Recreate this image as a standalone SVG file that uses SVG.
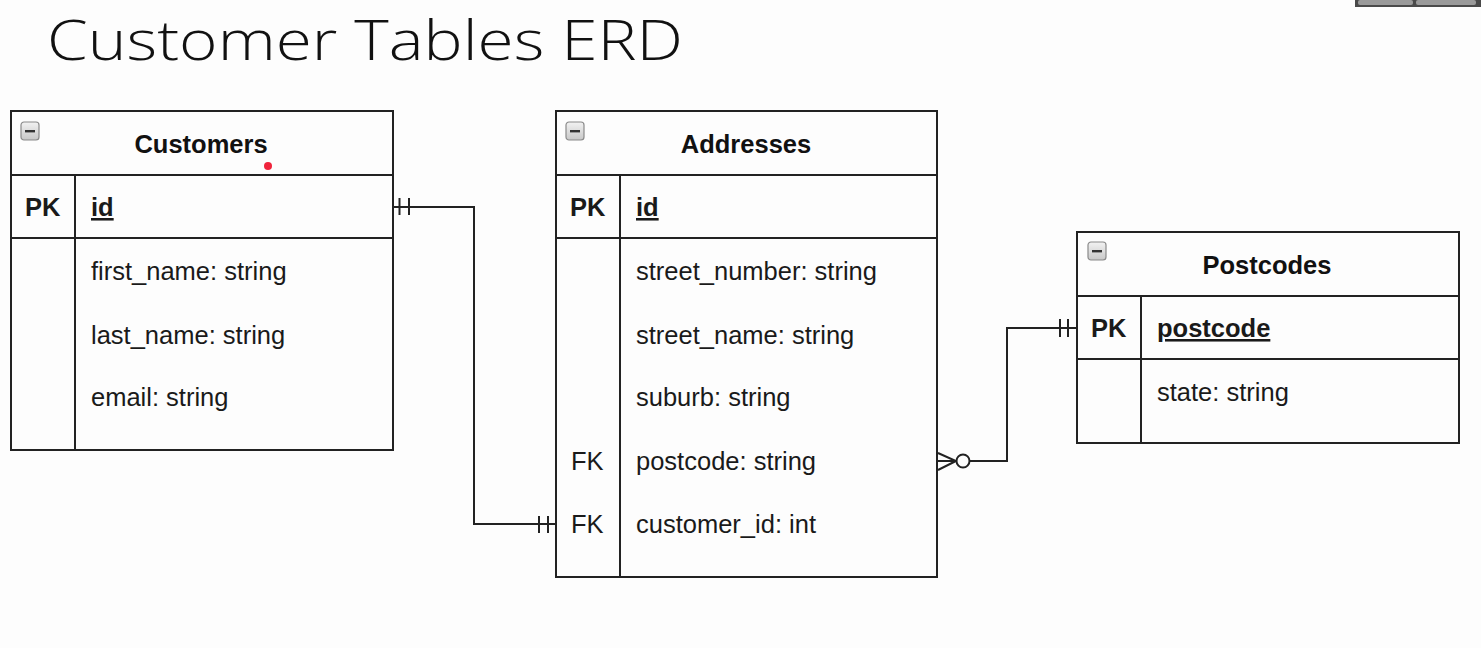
<svg xmlns="http://www.w3.org/2000/svg" width="1481" height="648" viewBox="0 0 1481 648">
<defs>
<linearGradient id="btn" x1="0" y1="0" x2="0" y2="1"><stop offset="0" stop-color="#f2f2f2"/><stop offset="1" stop-color="#c8c8c8"/></linearGradient>
<g id="minus"><rect x="0" y="0" width="18" height="18" rx="3" fill="url(#btn)" stroke="#8a8a8a" stroke-width="1.2"/><rect x="4" y="8" width="10" height="2.4" fill="#333"/></g>
</defs>
<style>
.box{fill:none;stroke:#222;stroke-width:2}
.ln{fill:none;stroke:#222;stroke-width:2}
.t{font-family:"Liberation Sans",Arial,sans-serif;font-size:25.5px;fill:#1a1a1a}
.b{font-weight:bold}
.h{font-family:"Liberation Sans",Arial,sans-serif;font-size:25.5px;font-weight:bold;fill:#111;text-anchor:middle}
.title{font-family:"Open Sans","Lato",sans-serif;font-weight:300;font-size:56px;fill:#111}
</style>
<rect width="1481" height="648" fill="#fdfdfd"/>
<g id="winbtn"><rect x="1355" y="0" width="126" height="7" fill="#4a4a4a"/><rect x="1358" y="0" width="55" height="5" rx="2" fill="#9a9a9a"/><rect x="1416" y="0" width="60" height="5" rx="2" fill="#9a9a9a"/></g>
<text class="title" x="47" y="60" textLength="636" lengthAdjust="spacingAndGlyphs">Customer Tables ERD</text>

<g id="customers">
<rect class="box" x="11" y="111" width="382" height="339"/>
<line class="ln" x1="11" y1="175" x2="393" y2="175"/>
<line class="ln" x1="11" y1="238" x2="393" y2="238"/>
<line class="ln" x1="75" y1="175" x2="75" y2="450"/>
<use href="#minus" x="21" y="122"/>
<text class="h" x="201" y="153">Customers</text>
<text class="t b" x="25" y="216">PK</text>
<text class="t b" x="91" y="216" text-decoration="underline">id</text>
<text class="t" x="91" y="280">first_name: string</text>
<text class="t" x="91" y="344">last_name: string</text>
<text class="t" x="91" y="406">email: string</text>
<circle cx="268" cy="166" r="4" fill="#f0243c"/>
</g>

<g id="addresses">
<rect class="box" x="556" y="111" width="381" height="466"/>
<line class="ln" x1="556" y1="175" x2="937" y2="175"/>
<line class="ln" x1="556" y1="238" x2="937" y2="238"/>
<line class="ln" x1="620" y1="175" x2="620" y2="577"/>
<use href="#minus" x="566" y="122"/>
<text class="h" x="746" y="153">Addresses</text>
<text class="t b" x="570" y="216">PK</text>
<text class="t b" x="636" y="216" text-decoration="underline">id</text>
<text class="t" x="636" y="280">street_number: string</text>
<text class="t" x="636" y="344">street_name: string</text>
<text class="t" x="636" y="406">suburb: string</text>
<text class="t" x="571" y="470">FK</text>
<text class="t" x="636" y="470">postcode: string</text>
<text class="t" x="571" y="533">FK</text>
<text class="t" x="636" y="533">customer_id: int</text>
</g>

<g id="postcodes">
<rect class="box" x="1077" y="232" width="382" height="211"/>
<line class="ln" x1="1077" y1="296" x2="1459" y2="296"/>
<line class="ln" x1="1077" y1="359" x2="1459" y2="359"/>
<line class="ln" x1="1141" y1="296" x2="1141" y2="443"/>
<use href="#minus" x="1088" y="242"/>
<text class="h" x="1267" y="274">Postcodes</text>
<text class="t b" x="1091" y="337">PK</text>
<text class="t b" x="1157" y="337" text-decoration="underline">postcode</text>
<text class="t" x="1157" y="401">state: string</text>
</g>

<g id="connectors">
<path class="ln" d="M393,207 H474 V524 H556"/>
<line class="ln" x1="399.5" y1="198" x2="399.5" y2="215"/>
<line class="ln" x1="409" y1="198" x2="409" y2="215"/>
<line class="ln" x1="539" y1="516" x2="539" y2="533"/>
<line class="ln" x1="548" y1="516" x2="548" y2="533"/>
<path class="ln" d="M969,461 H1007 V328 H1077"/>
<line class="ln" x1="1060" y1="319" x2="1060" y2="337"/>
<line class="ln" x1="1068" y1="319" x2="1068" y2="337"/>
<path class="ln" d="M938,453 L956,461 L938,470 M938,461 H956"/>
<circle cx="963" cy="461" r="6.5" fill="#fdfdfd" stroke="#222" stroke-width="2"/>
</g>
</svg>
